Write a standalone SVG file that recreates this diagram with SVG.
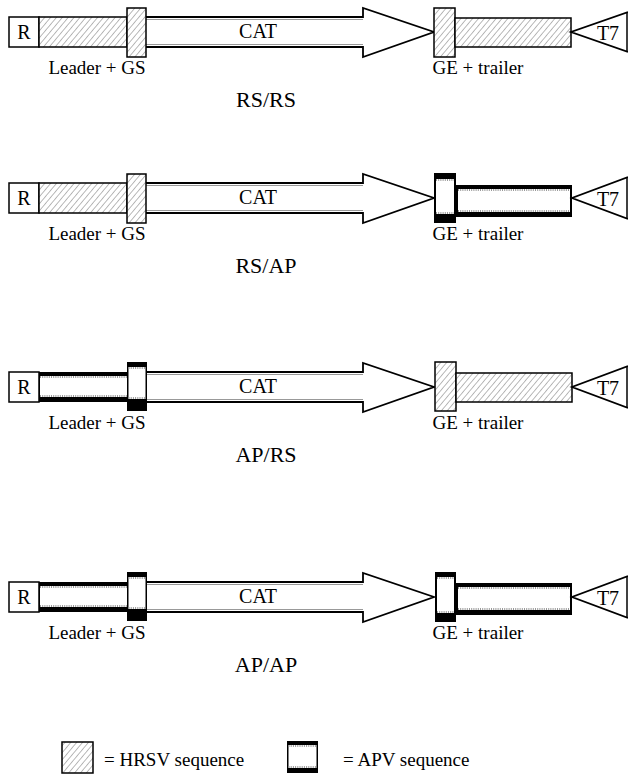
<svg xmlns="http://www.w3.org/2000/svg" width="628" height="775" viewBox="0 0 628 775" font-family="'Liberation Serif', 'DejaVu Serif', serif">
<defs>
<pattern id="hatch" width="4.5" height="4.5" patternUnits="userSpaceOnUse" patternTransform="rotate(40)">
<rect width="4.5" height="4.5" fill="#fff"/>
<line x1="0" y1="0" x2="0" y2="4.5" stroke="#666" stroke-width="0.9"/>
</pattern>
</defs>
<style>
text{font-family:'Liberation Serif','DejaVu Serif',serif;fill:#000}
.lab{font-size:19px}
.big{font-size:20px}
.ttl{font-size:22px}
.box{fill:#fff;stroke:#000;stroke-width:1.5}
.hat{fill:url(#hatch);stroke:#000;stroke-width:1.5}
.ao{fill:#000}
.ai{fill:#fff}
.sp{stroke:#999;stroke-width:2;stroke-dasharray:1 1.2;fill:none}
.out{fill:#fff;stroke:#000;stroke-width:1.8;stroke-linejoin:miter}
.in{stroke:#999;stroke-width:1;fill:none}
</style>
<rect width="628" height="775" fill="#fff"/>

<!-- Row 1: RS/RS -->
<g id="row-rsrs">
<g id="r1-R"><rect class="box" x="9" y="17" width="30" height="30"/><text class="big" x="24" y="39" text-anchor="middle">R</text></g>
<g id="r1-leader"><rect class="hat" x="39" y="17" width="88" height="30"/></g>
<g id="r1-cat"><path class="out" d="M146,17 L363,17 L363,8 L434,32 L363,57 L363,47 L146,47"/><line class="in" x1="146" y1="19.5" x2="363" y2="19.5"/><line class="in" x1="146" y1="44.5" x2="363" y2="44.5"/><text class="big" x="258" y="38" text-anchor="middle">CAT</text></g>
<g id="r1-GS"><rect class="hat" x="127" y="8" width="19" height="49"/></g>
<g id="r1-GE"><rect class="hat" x="434" y="8" width="21" height="49"/></g>
<g id="r1-trailer"><rect class="hat" x="455" y="18" width="116" height="29"/></g>
<g id="r1-T7"><path class="out" d="M628,12 L571,32 L628,52"/><line x1="627" y1="12" x2="627" y2="52" stroke="#000" stroke-width="1.5"/><text class="big" x="608" y="40" text-anchor="middle">T7</text></g>
<text class="lab" x="97" y="74" text-anchor="middle">Leader + GS</text>
<text class="lab" x="478" y="74" text-anchor="middle">GE + trailer</text>
<text class="ttl" x="266" y="107" text-anchor="middle">RS/RS</text>
</g>

<!-- Row 2: RS/AP -->
<g id="row-rsap" transform="translate(0,166)">
<g id="r2-R"><rect class="box" x="9" y="17" width="30" height="30"/><text class="big" x="24" y="39" text-anchor="middle">R</text></g>
<g id="r2-leader"><rect class="hat" x="39" y="17" width="88" height="30"/></g>
<g id="r2-cat"><path class="out" d="M146,17 L363,17 L363,8 L434,32 L363,57 L363,47 L146,47"/><line class="in" x1="146" y1="19.5" x2="363" y2="19.5"/><line class="in" x1="146" y1="44.5" x2="363" y2="44.5"/><text class="big" x="258" y="38" text-anchor="middle">CAT</text></g>
<g id="r2-GS"><rect class="hat" x="127" y="8" width="19" height="49"/></g>
<g id="r2-GE"><rect class="ao" x="434" y="7" width="22" height="50"/><rect class="ai" x="436" y="13" width="18" height="35"/><line class="sp" x1="436" y1="14" x2="454" y2="14"/><line class="sp" x1="436" y1="47" x2="454" y2="47"/></g>
<g id="r2-trailer"><rect class="ao" x="456" y="19" width="116" height="32"/><rect class="ai" x="458" y="23" width="112" height="23"/><line class="sp" x1="458" y1="24" x2="570" y2="24"/><line class="sp" x1="458" y1="45" x2="570" y2="45"/></g>
<g id="r2-T7"><path class="out" d="M628,11 L572,32 L628,53"/><line x1="627" y1="11" x2="627" y2="53" stroke="#000" stroke-width="1.5"/><text class="big" x="608" y="40" text-anchor="middle">T7</text></g>
<text class="lab" x="97" y="74" text-anchor="middle">Leader + GS</text>
<text class="lab" x="478" y="74" text-anchor="middle">GE + trailer</text>
<text class="ttl" x="266" y="107" text-anchor="middle">RS/AP</text>
</g>

<!-- Row 3: AP/RS -->
<g id="row-aprs" transform="translate(0,355)">
<g id="r3-R"><rect class="box" x="9" y="17" width="30" height="30"/><text class="big" x="24" y="39" text-anchor="middle">R</text></g>
<g id="r3-leader"><rect class="ao" x="39" y="17" width="89" height="30"/><rect class="ai" x="40" y="21" width="87" height="21"/><line class="sp" x1="40" y1="22" x2="127" y2="22"/><line class="sp" x1="40" y1="41" x2="127" y2="41"/></g>
<g id="r3-cat"><path class="out" d="M146,17 L363,17 L363,8 L434,32 L363,57 L363,47 L146,47"/><line class="in" x1="146" y1="19.5" x2="363" y2="19.5"/><line class="in" x1="146" y1="44.5" x2="363" y2="44.5"/><text class="big" x="258" y="38" text-anchor="middle">CAT</text></g>
<g id="r3-GS"><rect class="ao" x="127" y="7" width="20" height="49"/><rect class="ai" x="128.5" y="12" width="17" height="32"/><line class="sp" x1="128.5" y1="13" x2="145.5" y2="13"/><line class="sp" x1="128.5" y1="43" x2="145.5" y2="43"/></g>
<g id="r3-GE"><rect class="hat" x="435" y="7" width="21" height="49"/></g>
<g id="r3-trailer"><rect class="hat" x="456" y="18" width="116" height="29"/></g>
<g id="r3-T7"><path class="out" d="M628,11 L572,32 L628,53"/><line x1="627" y1="11" x2="627" y2="53" stroke="#000" stroke-width="1.5"/><text class="big" x="608" y="40" text-anchor="middle">T7</text></g>
<text class="lab" x="97" y="74" text-anchor="middle">Leader + GS</text>
<text class="lab" x="478" y="74" text-anchor="middle">GE + trailer</text>
<text class="ttl" x="266" y="107" text-anchor="middle">AP/RS</text>
</g>

<!-- Row 4: AP/AP -->
<g id="row-apap" transform="translate(0,565)">
<g id="r4-R"><rect class="box" x="9" y="17" width="30" height="30"/><text class="big" x="24" y="39" text-anchor="middle">R</text></g>
<g id="r4-leader"><rect class="ao" x="39" y="17" width="89" height="30"/><rect class="ai" x="40" y="21" width="87" height="21"/><line class="sp" x1="40" y1="22" x2="127" y2="22"/><line class="sp" x1="40" y1="41" x2="127" y2="41"/></g>
<g id="r4-cat"><path class="out" d="M146,17 L363,17 L363,8 L434,32 L363,57 L363,47 L146,47"/><line class="in" x1="146" y1="19.5" x2="363" y2="19.5"/><line class="in" x1="146" y1="44.5" x2="363" y2="44.5"/><text class="big" x="258" y="38" text-anchor="middle">CAT</text></g>
<g id="r4-GS"><rect class="ao" x="127" y="7" width="20" height="49"/><rect class="ai" x="128.5" y="12" width="17" height="32"/><line class="sp" x1="128.5" y1="13" x2="145.5" y2="13"/><line class="sp" x1="128.5" y1="43" x2="145.5" y2="43"/></g>
<g id="r4-GE"><rect class="ao" x="435" y="7" width="21" height="50"/><rect class="ai" x="437" y="12" width="17" height="36"/><line class="sp" x1="437" y1="13" x2="454" y2="13"/><line class="sp" x1="437" y1="47" x2="454" y2="47"/></g>
<g id="r4-trailer"><rect class="ao" x="456" y="18" width="116" height="32"/><rect class="ai" x="458" y="22" width="112" height="23"/><line class="sp" x1="458" y1="23" x2="570" y2="23"/><line class="sp" x1="458" y1="44" x2="570" y2="44"/></g>
<g id="r4-T7"><path class="out" d="M628,11 L572,32 L628,53"/><line x1="627" y1="11" x2="627" y2="53" stroke="#000" stroke-width="1.5"/><text class="big" x="608" y="40" text-anchor="middle">T7</text></g>
<text class="lab" x="97" y="74" text-anchor="middle">Leader + GS</text>
<text class="lab" x="478" y="74" text-anchor="middle">GE + trailer</text>
<text class="ttl" x="266" y="107" text-anchor="middle">AP/AP</text>
</g>

<!-- Legend -->
<g id="legend-hrsv"><rect class="hat" x="62" y="742" width="31" height="31"/><text class="lab" x="104" y="766">= HRSV sequence</text></g>
<g id="legend-apv"><rect class="ao" x="287" y="741" width="31" height="32"/><rect class="ai" x="288.5" y="745" width="28" height="23"/><line class="sp" x1="288.5" y1="746" x2="316.5" y2="746"/><line class="sp" x1="288.5" y1="767" x2="316.5" y2="767"/><text class="lab" x="343" y="766">= APV sequence</text></g>
</svg>
